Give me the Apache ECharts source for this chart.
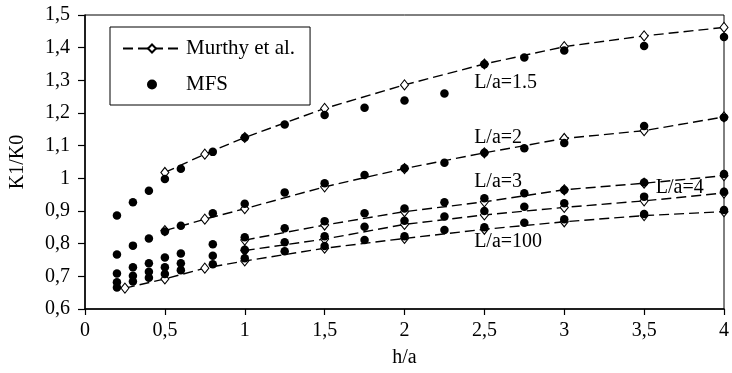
<!DOCTYPE html>
<html>
<head>
<meta charset="utf-8">
<script src="https://cdn.jsdelivr.net/npm/echarts@6/dist/echarts.min.js"></script>
<style>
  html, body { margin: 0; padding: 0; background: #fff; }
  #chart { width: 732px; height: 373px; }
</style>
</head>
<body>
<div id="chart"></div>
<script>
// ---- data ----
const xTicks = [0, 0.5, 1, 1.5, 2, 2.5, 3, 3.5, 4];
const yTicks = [0.6, 0.7, 0.8, 0.9, 1.0, 1.1, 1.2, 1.3, 1.4, 1.5];

const mfsX = [0.2, 0.3, 0.4, 0.5, 0.6, 0.8, 1.0, 1.25, 1.5, 1.75, 2.0, 2.25, 2.5, 2.75, 3.0, 3.5, 4.0];
const mfsL15  = [0.886, 0.927, 0.962, 0.998, 1.029, 1.081, 1.125, 1.165, 1.194, 1.216, 1.238, 1.260, 1.349, 1.370, 1.391, 1.405, 1.433];
const mfsL2   = [0.767, 0.794, 0.816, 0.837, 0.855, 0.893, 0.922, 0.957, 0.985, 1.010, 1.031, 1.048, 1.078, 1.092, 1.108, 1.160, 1.186];
const mfsL3   = [0.709, 0.728, 0.740, 0.758, 0.770, 0.798, 0.820, 0.847, 0.869, 0.893, 0.908, 0.927, 0.939, 0.954, 0.964, 0.987, 1.013];
const mfsL4   = [0.682, 0.702, 0.714, 0.728, 0.740, 0.763, 0.781, 0.804, 0.823, 0.852, 0.870, 0.883, 0.900, 0.913, 0.924, 0.944, 0.959];
const mfsL100 = [0.666, 0.684, 0.696, 0.707, 0.719, 0.737, 0.755, 0.777, 0.793, 0.811, 0.823, 0.842, 0.850, 0.864, 0.875, 0.891, 0.903];

const murX15   = [0.5, 0.75, 1, 1.5, 2, 2.5, 3, 3.5, 4];
const murL15   = [1.018, 1.074, 1.125, 1.214, 1.286, 1.350, 1.403, 1.436, 1.462];
const murX2    = [0.5, 0.75, 1, 1.5, 2, 2.5, 3, 3.5, 4];
const murL2    = [0.840, 0.875, 0.907, 0.974, 1.030, 1.078, 1.122, 1.146, 1.188];
const murX3    = [1, 1.5, 2, 2.5, 3, 3.5, 4];
const murL3    = [0.811, 0.857, 0.898, 0.928, 0.965, 0.985, 1.008];
const murX4    = [1, 1.5, 2, 2.5, 3, 3.5, 4];
const murL4    = [0.779, 0.814, 0.859, 0.888, 0.911, 0.931, 0.955];
const murX100  = [0.25, 0.5, 0.75, 1, 1.5, 2, 2.5, 3, 3.5, 4];
const murL100  = [0.664, 0.692, 0.725, 0.747, 0.786, 0.816, 0.844, 0.867, 0.886, 0.898];

const curveNames = ['L/a=1.5', 'L/a=2', 'L/a=3', 'L/a=100', 'L/a=4'];
const curveNameX = [2.436, 2.436, 2.436, 2.436, 3.573];
const curveNameY = [1.292, 1.123, 0.989, 0.805, 0.970];

// ---- chart ----
const FONT = "'Liberation Serif', 'Times New Roman', serif";
const fmt = v => String(Math.round(v * 10) / 10).replace('.', ',');
const zip = (xs, ys) => xs.map((x, i) => [x, ys[i]]);

const murthySets = [[murX15, murL15], [murX2, murL2], [murX3, murL3], [murX4, murL4], [murX100, murL100]];
const mfsSets = [mfsL15, mfsL2, mfsL3, mfsL4, mfsL100];

const series = [];
murthySets.forEach(([xs, ys]) => {
  series.push({
    name: 'Murthy et al.',
    type: 'line',
    data: zip(xs, ys),
    symbol: 'diamond',
    symbolSize: [8, 10],
    showAllSymbol: true,
    lineStyle: { color: '#000', width: 1.4, type: [10, 5], opacity: 1 },
    itemStyle: { color: '#fff', borderColor: '#000', borderWidth: 1.1, opacity: 1 },
    z: 2
  });
});
series.push({
  name: 'MFS',
  type: 'scatter',
  data: mfsSets.flatMap(ys => zip(mfsX, ys)),
  symbol: 'circle',
  symbolSize: 8.5,
  itemStyle: { color: '#000', opacity: 1 },
  z: 3
});
series.push({
  name: 'labels',
  type: 'scatter',
  silent: true,
  symbolSize: 0,
  itemStyle: { opacity: 1 },
  data: curveNames.map((n, i) => ({ name: n, value: [curveNameX[i], curveNameY[i]] })),
  label: {
    show: true, position: 'right', distance: 0,
    formatter: p => p.name,
    fontFamily: FONT, fontSize: 20, color: '#000', opacity: 1
  },
  z: 4
});

const chart = echarts.init(document.getElementById('chart'));
chart.setOption({
  animation: false,
  backgroundColor: '#fff',
  grid: { left: 81, right: 3, top: 15, bottom: 64, show: true, borderColor: '#000', borderWidth: 1 },
  legend: {
    data: ['Murthy et al.', 'MFS'],
    orient: 'vertical',
    left: 110, top: 27,
    padding: [10, 15, 9, 12],
    itemWidth: 58, itemHeight: 10, itemGap: 13,
    borderColor: '#000', borderWidth: 1,
    backgroundColor: '#fff',
    textStyle: { fontFamily: FONT, fontSize: 21, color: '#000', lineHeight: 23 },
    selectedMode: false
  },
  xAxis: {
    type: 'value', min: 0, max: 4, interval: 0.5,
    name: 'h/a', nameLocation: 'middle', nameGap: 39,
    nameTextStyle: { fontFamily: FONT, fontSize: 20, color: '#000' },
    axisLine: { lineStyle: { color: '#000', width: 1.5 } },
    axisTick: { show: true, length: 6, lineStyle: { color: '#000', width: 1.2 } },
    axisLabel: { formatter: fmt, fontFamily: FONT, fontSize: 20, color: '#000', margin: 12 },
    splitLine: { show: false }
  },
  yAxis: {
    type: 'value', min: 0.6, max: 1.5, interval: 0.1,
    name: 'K1/K0', nameLocation: 'middle', nameGap: 57,
    nameTextStyle: { fontFamily: FONT, fontSize: 20, color: '#000' },
    axisLine: { show: true, lineStyle: { color: '#000', width: 1.5 } },
    axisTick: { show: true, length: 7, lineStyle: { color: '#000', width: 1.2 } },
    axisLabel: { formatter: fmt, fontFamily: FONT, fontSize: 20, color: '#000', margin: 15 },
    splitLine: { show: false }
  },
  series: series
});
</script>
</body>
</html>
